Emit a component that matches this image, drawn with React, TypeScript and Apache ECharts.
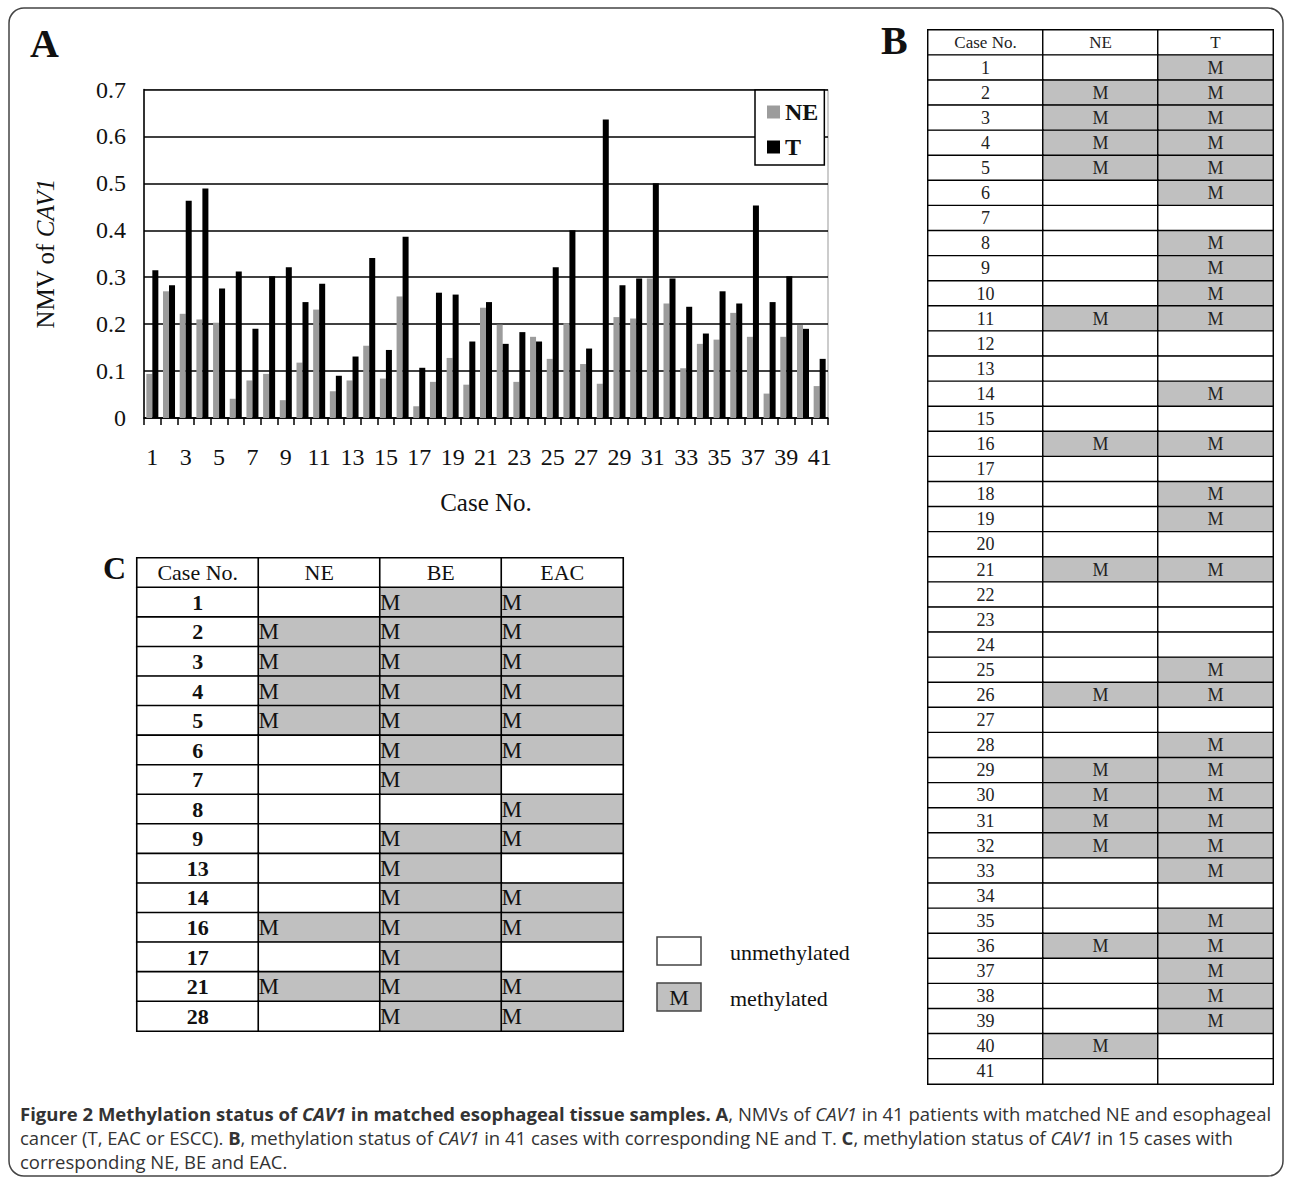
import React, { useEffect, useRef } from 'react';
import * as echarts from 'echarts';

const caseLabels = ['1','2','3','4','5','6','7','8','9','10','11','12','13','14','15','16','17','18','19','20','21','22','23','24','25','26','27','28','29','30','31','32','33','34','35','36','37','38','39','40','41'];
const neValues = [0.094,0.27,0.222,0.21,0.203,0.041,0.08,0.094,0.038,0.118,0.231,0.057,0.08,0.154,0.084,0.259,0.025,0.077,0.128,0.071,0.235,0.199,0.077,0.173,0.126,0.202,0.115,0.073,0.215,0.212,0.297,0.244,0.106,0.158,0.167,0.224,0.173,0.052,0.173,0.198,0.068];
const tValues = [0.315,0.283,0.463,0.489,0.276,0.312,0.19,0.302,0.321,0.247,0.286,0.09,0.131,0.341,0.145,0.386,0.107,0.267,0.263,0.163,0.247,0.158,0.183,0.163,0.321,0.4,0.148,0.636,0.283,0.297,0.5,0.297,0.237,0.18,0.27,0.244,0.453,0.247,0.302,0.19,0.126];

const tableBHeaders = ['Case No.', 'NE', 'T'];
const tableBCases = caseLabels;
const tableBNE = ['', 'M','M','M','M', '','','','','', 'M','','','','', 'M','','','','', 'M','','','','', 'M','','', 'M','M','M','M', '','','', 'M','','','', 'M',''];
const tableBT = ['M','M','M','M','M', 'M','','M','M','M', 'M','','','M','', 'M','','M','M','', 'M','','','','M', 'M','','M','M','M', 'M','M','M','','M', 'M','M','M','M','', ''];

const tableCHeaders = ['Case No.', 'NE', 'BE', 'EAC'];
const tableCCases = ['1','2','3','4','5','6','7','8','9','13','14','16','17','21','28'];
const tableCNE = ['', 'M','M','M','M', '','','','','','', 'M','', 'M',''];
const tableCBE = ['M','M','M','M','M','M','M','','M','M','M','M','M','M','M'];
const tableCEAC = ['M','M','M','M','M','M','','M','M','','M','M','','M','M'];

const SERIF = '"Liberation Serif", "DejaVu Serif", serif';
const SANS = '"Open Sans", "Noto Sans", sans-serif';

function buildTable(headers: string[], cases: string[], cols: string[][], st: any) {
  const data: any[] = [];
  headers.forEach((h, c) => data.push({ value: [c, 0, 0], txt: h, label: st.header }));
  cases.forEach((cs, r) => {
    data.push({ value: [0, r + 1, 0], txt: cs, label: st.caseNo });
    cols.forEach((col, ci) => {
      data.push({ value: [ci + 1, r + 1, col[r] === 'M' ? 1 : 0], txt: col[r], label: st.cell });
    });
  });
  return data;
}

export default function App() {
  const ref = useRef<HTMLDivElement>(null);
  useEffect(() => {
    document.body.style.margin = '0';
    const chart = echarts.init(ref.current!, null, { renderer: 'svg' });
    const rowIdsB = ['hdr', ...tableBCases.map((c) => 'c' + c)];
    const rowIdsC = ['hdr', ...tableCCases.map((c) => 'c' + c)];
    const dataB = buildTable(tableBHeaders, tableBCases, [tableBNE, tableBT], {
      header: { fontSize: 17, fontFamily: SERIF, color: '#222' },
      caseNo: { fontSize: 18, fontFamily: SERIF, color: '#222' },
      cell: { fontSize: 18, fontFamily: SERIF, color: '#222' },
    });
    const dataC = buildTable(tableCHeaders, tableCCases, [tableCNE, tableCBE, tableCEAC], {
      header: { fontSize: 22, fontFamily: SERIF, color: '#111' },
      caseNo: { fontSize: 22, fontFamily: SERIF, color: '#111', fontWeight: 'bold' },
      cell: { fontSize: 23, fontFamily: SERIF, color: '#111', position: 'insideLeft', distance: 1 },
    });
    const FS = 18.5;
    const CAP = '#333';
    const capStyle = { fontSize: FS, fontFamily: SANS, fill: CAP };
    const rich = {
      b: { fontSize: FS, fontFamily: SANS, fontWeight: 'bold', color: CAP },
      i: { fontSize: FS, fontFamily: SANS, fontStyle: 'italic', color: CAP },
      bi: { fontSize: FS, fontFamily: SANS, fontWeight: 'bold', fontStyle: 'italic', color: CAP },
    };
    const option: any = {
      animation: false,
      backgroundColor: '#fff',
      legend: {
        data: ['NE', 'T'],
        orient: 'vertical',
        left: 755,
        top: 90,
        icon: 'rect',
        itemWidth: 13,
        itemHeight: 13,
        itemGap: 11,
        padding: [10, 6, 6, 12],
        borderColor: '#000',
        borderWidth: 1.5,
        backgroundColor: '#fff',
        textStyle: { fontSize: 24, fontWeight: 'bold', fontFamily: SERIF, color: '#111' },
      },
      grid: [
        { left: 144, top: 89.5, width: 684, height: 328.5, show: true, borderColor: '#999', borderWidth: 1 },
        { left: 928, top: 30, width: 345, height: 1054, show: true, borderColor: '#000', borderWidth: 2 },
        { left: 137, top: 558, width: 486, height: 473, show: true, borderColor: '#000', borderWidth: 2 },
      ],
      xAxis: [
        {
          gridIndex: 0,
          type: 'category',
          data: caseLabels,
          axisLine: { lineStyle: { color: '#000', width: 1.5 } },
          axisTick: { show: true, interval: 0, length: 7, lineStyle: { color: '#000', width: 1.5 } },
          axisLabel: { interval: 1, fontSize: 24, fontFamily: SERIF, color: '#111', margin: 27 },
          name: 'Case No.',
          nameLocation: 'middle',
          nameGap: 72,
          nameTextStyle: { fontSize: 25, fontFamily: SERIF, color: '#111' },
        },
        { gridIndex: 1, type: 'category', data: tableBHeaders, show: false },
        { gridIndex: 2, type: 'category', data: tableCHeaders, show: false },
      ],
      yAxis: [
        {
          gridIndex: 0,
          type: 'value',
          min: 0,
          max: 0.7,
          interval: 0.1,
          axisLine: { show: true, lineStyle: { color: '#000', width: 1.5 } },
          axisTick: { show: false },
          splitLine: { show: true, lineStyle: { color: '#000', width: 1.5 } },
          axisLabel: {
            fontSize: 24,
            fontFamily: SERIF,
            color: '#111',
            margin: 18,
            formatter: (v: number) => (v === 0 ? '0' : v.toFixed(1)),
          },
          name: 'NMV of {i|CAV1}',
          nameLocation: 'middle',
          nameGap: 86,
          nameTextStyle: {
            fontSize: 25,
            fontFamily: SERIF,
            color: '#111',
            rich: { i: { fontSize: 25, fontFamily: SERIF, fontStyle: 'italic', color: '#111' } },
          },
        },
        { gridIndex: 1, type: 'category', data: rowIdsB, inverse: true, show: false },
        { gridIndex: 2, type: 'category', data: rowIdsC, inverse: true, show: false },
      ],
      visualMap: {
        type: 'piecewise',
        show: false,
        seriesIndex: [2, 3],
        dimension: 2,
        pieces: [
          { value: 0, color: '#ffffff' },
          { value: 1, color: '#c0c0c0' },
        ],
      },
      series: [
        {
          type: 'bar',
          name: 'NE',
          data: neValues,
          xAxisIndex: 0,
          yAxisIndex: 0,
          itemStyle: { color: '#9c9c9c' },
          barGap: '0%',
          barCategoryGap: '28%',
        },
        {
          type: 'bar',
          name: 'T',
          data: tValues,
          xAxisIndex: 0,
          yAxisIndex: 0,
          itemStyle: { color: '#000000' },
          barGap: '0%',
          barCategoryGap: '28%',
        },
        {
          type: 'heatmap',
          xAxisIndex: 1,
          yAxisIndex: 1,
          data: dataB,
          itemStyle: { borderColor: '#000', borderWidth: 1.4 },
          label: { show: true, formatter: (p: any) => p.data.txt },
          emphasis: { disabled: true },
        },
        {
          type: 'heatmap',
          xAxisIndex: 2,
          yAxisIndex: 2,
          data: dataC,
          itemStyle: { borderColor: '#000', borderWidth: 1.6 },
          label: { show: true, formatter: (p: any) => p.data.txt },
          emphasis: { disabled: true },
        },
      ],
      graphic: [
        {
          type: 'rect',
          shape: { x: 9, y: 8, width: 1274, height: 1168, r: 15 },
          style: { fill: 'rgba(0,0,0,0)', stroke: '#444', lineWidth: 1.5 },
          silent: true,
        },
        { type: 'text', x: 30, y: 43, style: { text: 'A', fontSize: 40, fontWeight: 'bold', fontFamily: SERIF, fill: '#111', verticalAlign: 'middle' } },
        { type: 'text', x: 881, y: 40, style: { text: 'B', fontSize: 40, fontWeight: 'bold', fontFamily: SERIF, fill: '#111', verticalAlign: 'middle' } },
        { type: 'text', x: 103, y: 568, style: { text: 'C', fontSize: 32, fontWeight: 'bold', fontFamily: SERIF, fill: '#111', verticalAlign: 'middle' } },
        {
          type: 'rect',
          shape: { x: 657, y: 937, width: 44, height: 28 },
          style: { fill: '#fff', stroke: '#444', lineWidth: 1.5 },
        },
        {
          type: 'rect',
          shape: { x: 657, y: 983, width: 44, height: 28 },
          style: { fill: '#c0c0c0', stroke: '#444', lineWidth: 1.5 },
        },
        { type: 'text', x: 679, y: 997, style: { text: 'M', fontSize: 22, fontFamily: SERIF, fill: '#111', align: 'center', verticalAlign: 'middle' } },
        { type: 'text', x: 730, y: 952, style: { text: 'unmethylated', fontSize: 22, fontFamily: SERIF, fill: '#111', verticalAlign: 'middle' } },
        { type: 'text', x: 730, y: 998, style: { text: 'methylated', fontSize: 22, fontFamily: SERIF, fill: '#111', verticalAlign: 'middle' } },
        {
          type: 'text',
          x: 20,
          y: 1113,
          style: {
            ...capStyle,
            verticalAlign: 'middle',
            text: '{b|Figure 2 Methylation status of }{bi|CAV1}{b| in matched esophageal tissue samples. A}, NMVs of {i|CAV1} in 41 patients with matched NE and esophageal',
            rich,
          },
        },
        {
          type: 'text',
          x: 20,
          y: 1137,
          style: {
            ...capStyle,
            verticalAlign: 'middle',
            text: 'cancer (T, EAC or ESCC). {b|B}, methylation status of {i|CAV1} in 41 cases with corresponding NE and T. {b|C}, methylation status of {i|CAV1} in 15 cases with',
            rich,
          },
        },
        {
          type: 'text',
          x: 20,
          y: 1161,
          style: { ...capStyle, verticalAlign: 'middle', text: 'corresponding NE, BE and EAC.', rich },
        },
      ],
    };
    chart.setOption(option);
    return () => chart.dispose();
  }, []);
  return <div ref={ref} style={{ width: 1292, height: 1182 }} />;
}
